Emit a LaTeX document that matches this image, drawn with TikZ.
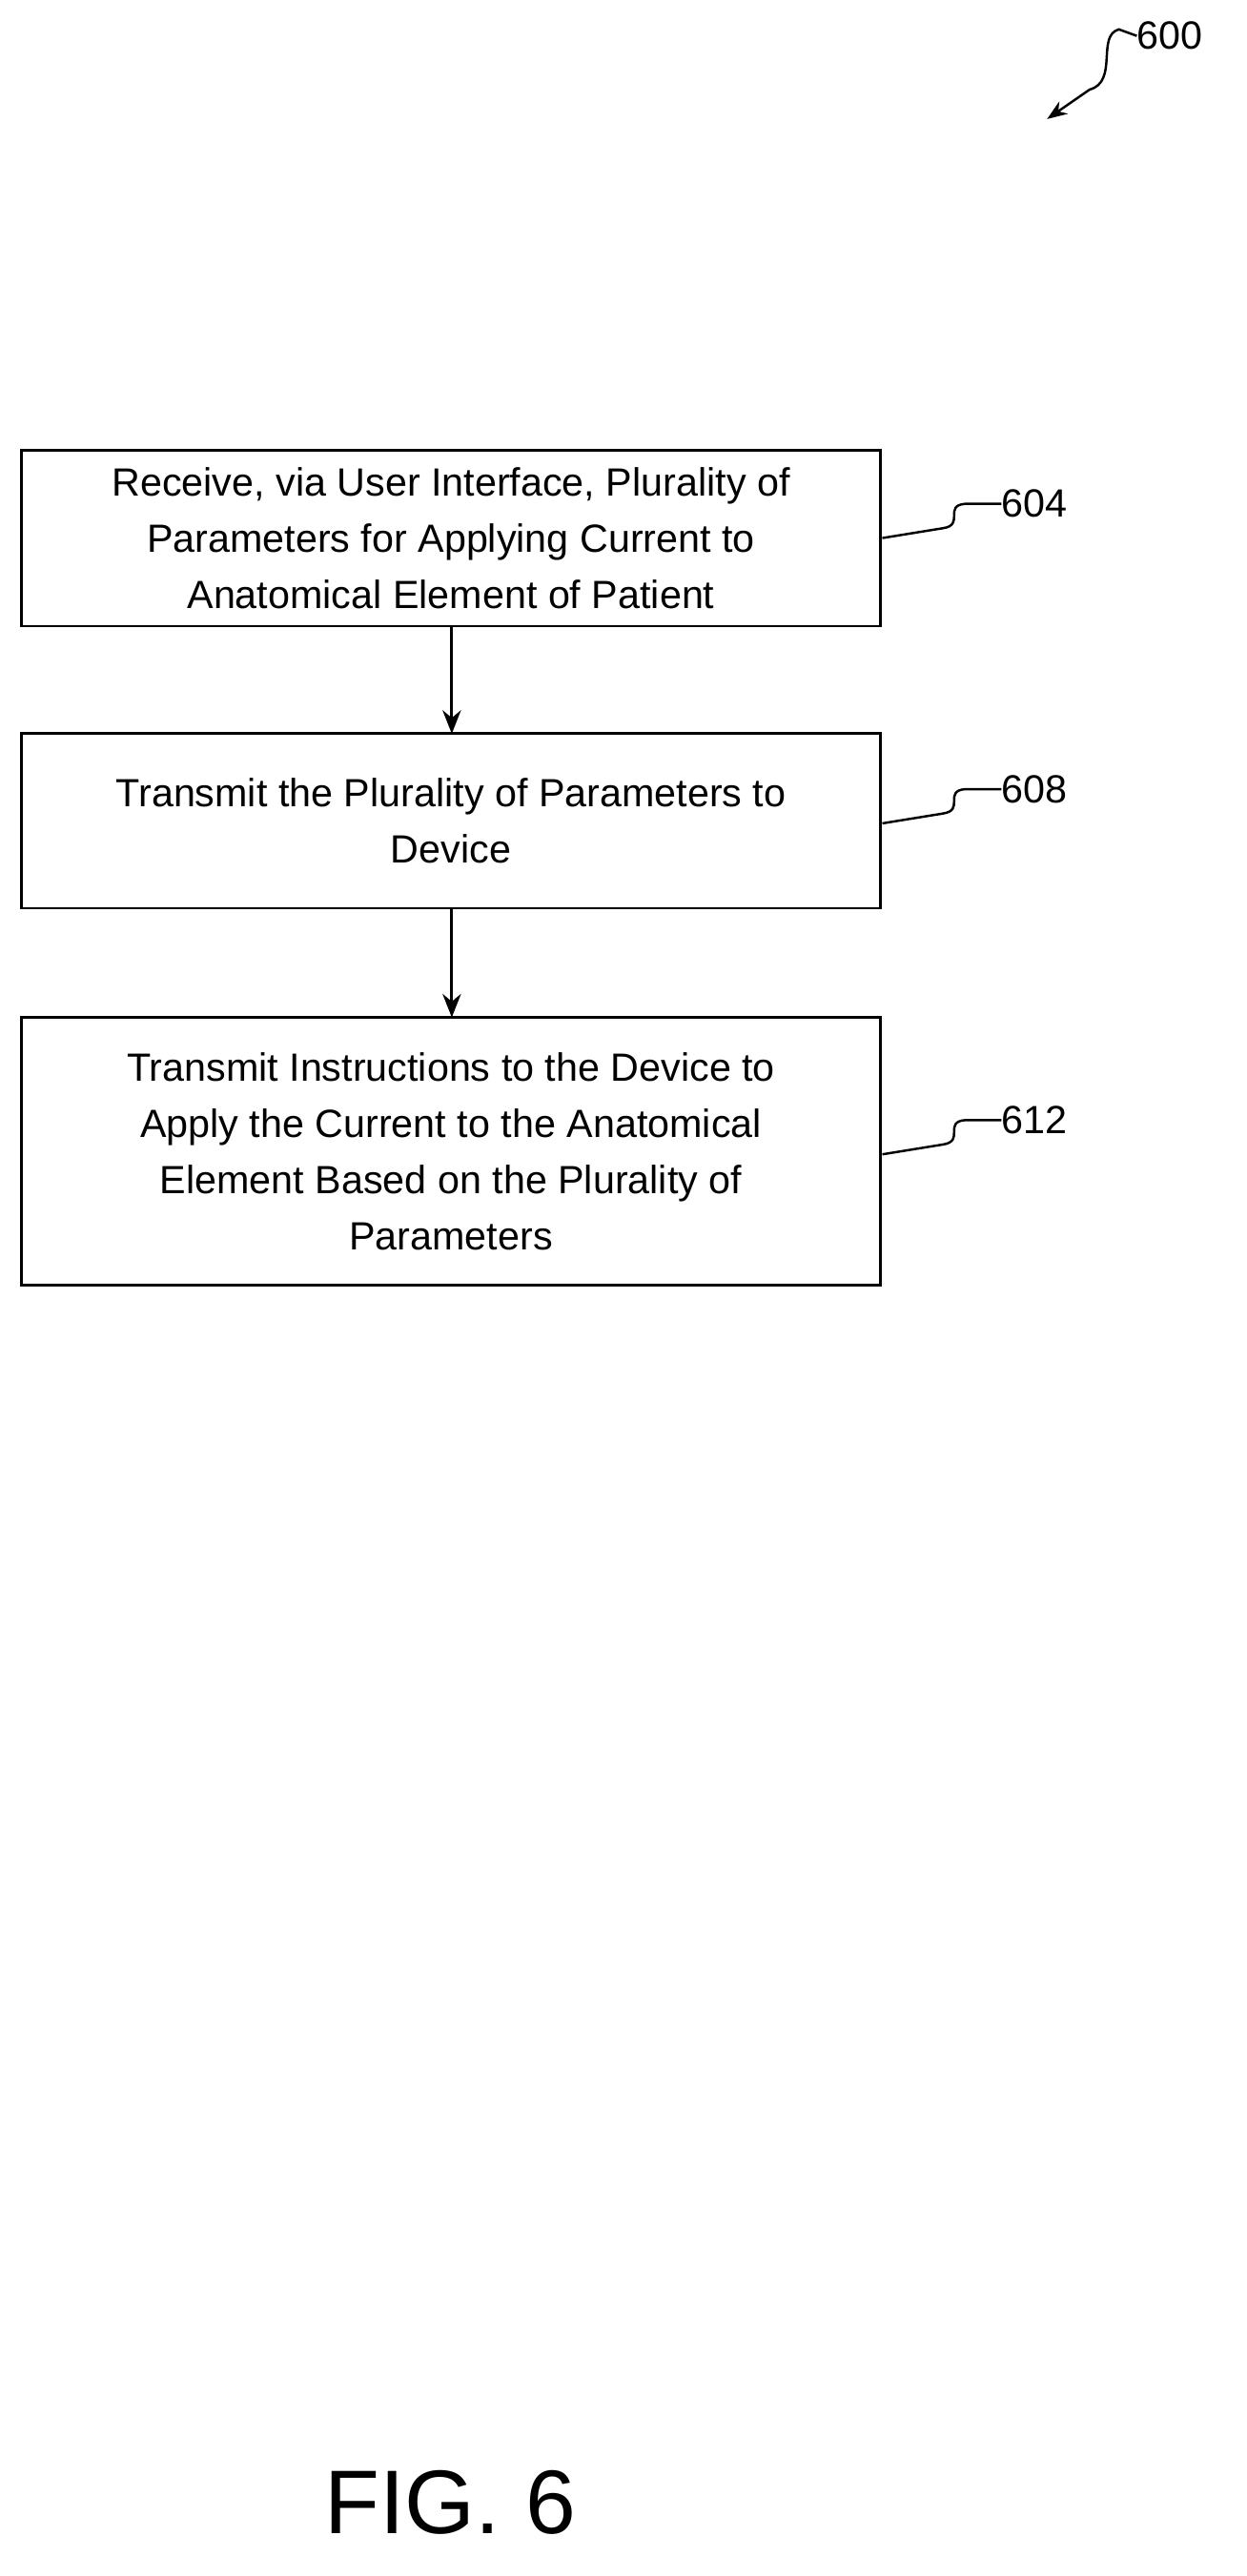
\documentclass[tikz,border=0pt]{standalone}
\usepackage{fontspec}
\setmainfont{Liberation Sans}
\usetikzlibrary{arrows.meta}
\begin{document}
\begin{tikzpicture}[x=0.03422cm,y=-0.03422cm,
  box/.style={draw,line width=1.6pt,align=center,font=\fontsize{23.5}{33.6}\selectfont,inner sep=0},
  arr/.style={line width=1.6pt,-{Stealth[length=14pt,width=11pt]}},
  lab/.style={font=\fontsize{23.5}{28}\selectfont,anchor=west,inner sep=0},
  sq/.style={line width=1.4pt}]
\useasboundingbox (0,0) rectangle (764,1580);
\draw[box] (13,276) rectangle (540,384) node[midway,box,draw=none] (b1) {Receive, via User Interface, Plurality of\\Parameters for Applying Current to\\Anatomical Element of Patient};
\draw[box] (13,450) rectangle (540,557) node[midway,box,draw=none] (b2) {Transmit the Plurality of Parameters to\\Device};
\draw[box] (13,624) rectangle (540,788) node[midway,box,draw=none] (b3) {Transmit Instructions to the Device to\\Apply the Current to the Anatomical\\Element Based on the Plurality of\\Parameters};
\coordinate (t1) at (277,384); \coordinate (h1) at (277,450);
\coordinate (t2) at (277,557); \coordinate (h2) at (277,624);
\draw[arr] (t1) -- (h1);
\draw[arr] (t2) -- (h2);
\node[lab] (l604) at (614,309) {604};
\node[lab] (l608) at (614,484) {608};
\node[lab] (l612) at (614,687) {612};
\foreach \y/\n in {330/604,505/608,708/612}{
  \coordinate (s\n) at (541,\y);
  \draw[sq] (s\n) -- (578,\y-6) .. controls (592,\y-8) and (578,\y-20) .. (592,\y-21) -- (l\n.west);
}
\node[lab] (l600) at (697,22) {600};
\coordinate (a600) at (642,73);
\draw[line width=1.4pt,-{Stealth[length=12pt,width=9pt]}] (l600.west) -- (686,18) .. controls (672,22) and (686,50) .. (668,55) -- (a600);
\node[font=\fontsize{54}{60}\selectfont,inner sep=0] (fig) at (276,1535) {FIG. 6};
\end{tikzpicture}
\end{document}
